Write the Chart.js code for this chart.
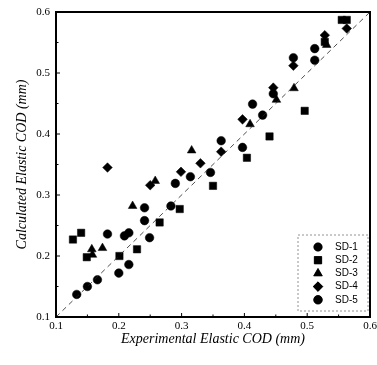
<!DOCTYPE html>
<html>
<head>
<meta charset="utf-8">
<script src="https://cdn.jsdelivr.net/npm/chart.js@4/dist/chart.umd.min.js"></script>
<style>
html,body{margin:0;padding:0;background:#fff;}
#wrap{width:377px;height:365px;position:relative;}
</style>
</head>
<body>
<div id="wrap"><canvas id="c" width="377" height="365"></canvas></div>
<script>
// ---- data ----
const seriesNames = ['SD-1', 'SD-2', 'SD-3', 'SD-4', 'SD-5'];
const seriesShapes = ['circle', 'rect', 'triangle', 'rectRot', 'circle'];
const seriesRadius = [4.3, 5.2, 5, 4.8, 4.3];

const sd1X = [0.133, 0.150, 0.166, 0.200, 0.216, 0.209, 0.249, 0.241, 0.283, 0.314, 0.346, 0.397, 0.429, 0.512];
const sd1Y = [0.137, 0.150, 0.161, 0.172, 0.186, 0.233, 0.230, 0.258, 0.282, 0.330, 0.337, 0.378, 0.431, 0.521];

const sd2X = [0.127, 0.140, 0.149, 0.201, 0.229, 0.265, 0.297, 0.350, 0.404, 0.440, 0.496, 0.528, 0.555, 0.563];
const sd2Y = [0.227, 0.238, 0.198, 0.200, 0.211, 0.255, 0.277, 0.315, 0.361, 0.396, 0.438, 0.551, 0.587, 0.587];

const sd3X = [0.157, 0.158, 0.174, 0.222, 0.258, 0.316, 0.409, 0.451, 0.479, 0.531];
const sd3Y = [0.211, 0.202, 0.213, 0.282, 0.323, 0.373, 0.416, 0.456, 0.475, 0.546];

const sd4X = [0.182, 0.250, 0.299, 0.330, 0.363, 0.397, 0.446, 0.478, 0.528, 0.563];
const sd4Y = [0.345, 0.316, 0.338, 0.352, 0.371, 0.424, 0.476, 0.512, 0.562, 0.573];

const sd5X = [0.182, 0.216, 0.241, 0.290, 0.363, 0.413, 0.446, 0.478, 0.512];
const sd5Y = [0.236, 0.238, 0.279, 0.319, 0.389, 0.449, 0.466, 0.525, 0.540];

const equalityLine = [0.1, 0.6];
const axisMin = 0.1, axisMax = 0.6, axisStep = 0.1;
const xTitle = 'Experimental Elastic COD (mm)';
const yTitle = 'Calculated Elastic COD (mm)';

// ---- build datasets ----
const xs = [sd1X, sd2X, sd3X, sd4X, sd5X];
const ys = [sd1Y, sd2Y, sd3Y, sd4Y, sd5Y];
const datasets = seriesNames.map((name, i) => ({
  type: 'scatter',
  label: name,
  data: xs[i].map((x, k) => ({x: x, y: ys[i][k]})),
  pointStyle: seriesShapes[i],
  pointRadius: seriesRadius[i],
  pointHoverRadius: seriesRadius[i],
  backgroundColor: '#000',
  borderColor: '#000',
  borderWidth: 0.5
}));
datasets.unshift({
  type: 'line',
  label: 'y = x',
  data: equalityLine.map(v => ({x: v, y: v})),
  borderColor: '#222',
  borderWidth: 0.8,
  borderDash: [5, 4],
  pointRadius: 0,
  fill: false
});

const serif = "'Liberation Serif', 'DejaVu Serif', serif";
const sans = "'Liberation Sans', Arial, sans-serif";

const framePlugin = {
  id: 'frame',
  afterDatasetsDraw(chart) {
    const {ctx, chartArea: a, scales} = chart;
    ctx.save();
    // inward ticks
    ctx.strokeStyle = '#000';
    ctx.lineWidth = 1;
    for (let v = axisMin; v <= axisMax + 1e-9; v += axisStep / 2) {
      const major = Math.abs(Math.round(v / axisStep) * axisStep - v) < 1e-6;
      const len = major ? 4 : 2.5;
      const py = scales.y.getPixelForValue(v);
      const px = scales.x.getPixelForValue(v);
      ctx.beginPath();
      ctx.moveTo(a.left, py); ctx.lineTo(a.left + len, py);
      ctx.moveTo(px, a.bottom); ctx.lineTo(px, a.bottom - len);
      ctx.stroke();
    }
    // frame
    ctx.lineWidth = 2;
    ctx.strokeRect(a.left, a.top, a.right - a.left, a.bottom - a.top);

    // legend box (inside, bottom right)
    const bx = a.right - 72, by = a.bottom - 82, bw = 70, bh = 76;
    ctx.strokeStyle = '#777';
    ctx.lineWidth = 0.8;
    ctx.setLineDash([2, 2]);
    ctx.strokeRect(bx, by, bw, bh);
    ctx.setLineDash([]);
    ctx.font = '10px ' + sans;
    ctx.textBaseline = 'middle';
    ctx.textAlign = 'left';
    ctx.fillStyle = '#000';
    seriesNames.forEach((name, i) => {
      const yy = by + 12 + i * 13.2;
      Chart.helpers.drawPoint(ctx, {
        pointStyle: seriesShapes[i],
        radius: seriesRadius[i],
        borderWidth: 0.5
      }, bx + 20, yy);
      ctx.fillStyle = '#000';
      ctx.strokeStyle = '#000';
      ctx.fill();
      ctx.fillText(name, bx + 37, yy);
    });
    ctx.restore();
  }
};

new Chart(document.getElementById('c'), {
  data: {datasets: datasets},
  options: {
    responsive: false,
    animation: false,
    layout: {padding: {left: 0, right: 7, top: 12, bottom: 0}},
    plugins: {legend: {display: false}, tooltip: {enabled: false}},
    scales: {
      x: {
        type: 'linear', min: axisMin, max: axisMax,
        grid: {display: false, drawTicks: false},
        border: {display: false},
        ticks: {stepSize: axisStep, padding: 3, color: '#000',
          font: {family: serif, size: 11},
          callback: v => v.toFixed(1)},
        title: {display: true, text: xTitle, color: '#000',
          font: {family: serif, size: 14, style: 'italic'},
          padding: {top: 0, bottom: 17}},
        afterFit: s => { s.height = 48; s.paddingLeft = 0; s.paddingRight = 0; }
      },
      y: {
        type: 'linear', min: axisMin, max: axisMax,
        grid: {display: false, drawTicks: false},
        border: {display: false},
        ticks: {stepSize: axisStep, padding: 6, color: '#000',
          font: {family: serif, size: 11},
          callback: v => v.toFixed(1)},
        title: {display: true, text: yTitle, color: '#000',
          font: {family: serif, size: 14, style: 'italic'},
          padding: {top: 14, bottom: 0}},
        afterFit: s => { s.width = 56; s.paddingTop = 0; s.paddingBottom = 0; }
      }
    }
  },
  plugins: [framePlugin]
});
</script>
</body>
</html>
